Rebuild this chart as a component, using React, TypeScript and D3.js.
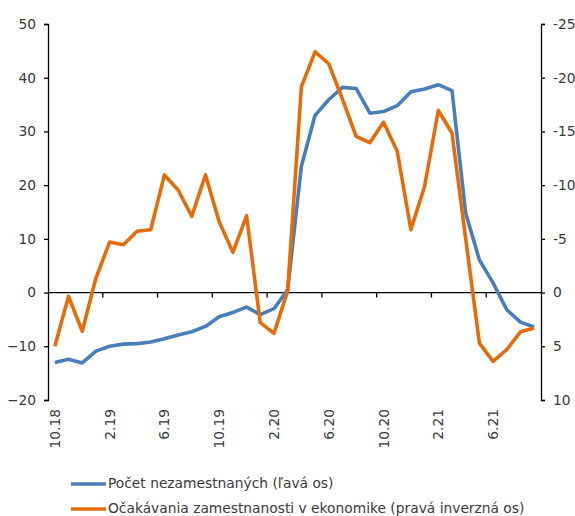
import React, { useEffect, useRef } from "react";
import * as d3 from "d3";

// months 10.18 .. 9.21
const months = [
  "10.18", "11.18", "12.18", "1.19", "2.19", "3.19", "4.19", "5.19", "6.19",
  "7.19", "8.19", "9.19", "10.19", "11.19", "12.19", "1.20", "2.20", "3.20",
  "4.20", "5.20", "6.20", "7.20", "8.20", "9.20", "10.20", "11.20", "12.20",
  "1.21", "2.21", "3.21", "4.21", "5.21", "6.21", "7.21", "8.21", "9.21",
];
const shownLabels = ["10.18", "2.19", "6.19", "10.19", "2.20", "6.20", "10.20", "2.21", "6.21"];

// left axis
const unemployed = [
  -13.0, -12.4, -13.1, -10.9, -10.0, -9.6, -9.5, -9.2, -8.6, -7.9, -7.3, -6.3,
  -4.5, -3.7, -2.7, -4.1, -3.0, 0.5, 23.5, 33.0, 35.9, 38.2, 38.0, 33.4,
  33.7, 34.8, 37.4, 37.9, 38.7, 37.6, 14.8, 6.1, 1.8, -3.2, -5.5, -6.4,
];
// right (inverted) axis
const expectations = [
  5.0, 0.35, 3.6, -1.35, -4.7, -4.45, -5.7, -5.85, -10.95, -9.55, -7.1, -10.95,
  -6.6, -3.75, -7.15, 2.8, 3.8, -0.15, -19.15, -22.4, -21.3, -18.0, -14.55, -13.95,
  -15.85, -13.15, -5.85, -9.9, -16.95, -14.85, -5.0, 4.7, 6.4, 5.3, 3.65, 3.3,
];

const leftTicks = [50, 40, 30, 20, 10, 0, -10, -20];
const rightTicks = [-25, -20, -15, -10, -5, 0, 5, 10];

const seriesNames = [
  "Počet nezamestnaných (ľavá os)",
  "Očakávania zamestnanosti v ekonomike (pravá inverzná os)",
];
const colors = ["#4A7EBB", "#E46C0A"];

const App = () => {
  const svgRef = useRef<SVGSVGElement>(null);

  useEffect(() => {
    const svg = d3.select(svgRef.current);
    svg.selectAll("*").remove();

    const left = 48;
    const right = 541;
    const top = 24;
    const bottom = 400;
    const font = "DejaVu Sans, Verdana, sans-serif";
    const fontSize = "13.8px";
    const textColor = "#3a3a3a";

    const x = d3.scaleBand<string>().domain(months).range([left, right]).padding(0);
    const cx = (m: string) => (x(m) as number) + x.bandwidth() / 2;
    const yL = d3.scaleLinear().domain([-20, 50]).range([bottom, top]);
    const yR = d3.scaleLinear().domain([10, -25]).range([bottom, top]);

    // left axis
    svg.append("g")
      .attr("transform", `translate(${left},0)`)
      .call(d3.axisLeft(yL).tickValues(leftTicks).tickSize(4).tickPadding(8))
      .call((g) => g.selectAll("path,line").attr("stroke", "#000").attr("stroke-width", 1.3))
      .call((g) =>
        g.selectAll("text")
          .attr("fill", textColor)
          .style("font-family", font)
          .style("font-size", fontSize)
      );

    // right axis
    svg.append("g")
      .attr("transform", `translate(${right},0)`)
      .call(
        d3.axisRight(yR).tickValues(rightTicks).tickSize(4).tickPadding(8)
          .tickFormat((d) => String(d))
      )
      .call((g) => g.selectAll("path,line").attr("stroke", "#000").attr("stroke-width", 1.3))
      .call((g) =>
        g.selectAll("text")
          .attr("fill", textColor)
          .style("font-family", font)
          .style("font-size", fontSize)
      );

    // zero line with category ticks
    const y0 = yL(0);
    svg.append("line")
      .attr("x1", left).attr("x2", right)
      .attr("y1", y0).attr("y2", y0)
      .attr("stroke", "#000").attr("stroke-width", 1.3);
    svg.append("g")
      .selectAll("line")
      .data(months.filter((_, i) => i > 0 && i % 4 === 0))
      .join("line")
      .attr("x1", (d) => x(d) as number)
      .attr("x2", (d) => x(d) as number)
      .attr("y1", y0)
      .attr("y2", y0 + 5)
      .attr("stroke", "#000")
      .attr("stroke-width", 1.3);

    // category labels
    svg.append("g")
      .selectAll("text")
      .data(shownLabels)
      .join("text")
      .attr("transform", (d) => `translate(${cx(d) + 1},${bottom + 9}) rotate(-90)`)
      .attr("text-anchor", "end")
      .attr("dominant-baseline", "middle")
      .attr("fill", textColor)
      .style("font-family", font)
      .style("font-size", fontSize)
      .text((d) => d);

    // lines
    const lineL = d3.line<number>().x((_, i) => cx(months[i])).y((d) => yL(d));
    const lineR = d3.line<number>().x((_, i) => cx(months[i])).y((d) => yR(d));

    svg.append("path")
      .datum(unemployed)
      .attr("fill", "none")
      .attr("stroke", colors[0])
      .attr("stroke-width", 3.6)
      .attr("stroke-linejoin", "round")
      .attr("d", lineL);

    svg.append("path")
      .datum(expectations)
      .attr("fill", "none")
      .attr("stroke", colors[1])
      .attr("stroke-width", 3.6)
      .attr("stroke-linejoin", "round")
      .attr("d", lineR);

    // legend
    const legend = svg.append("g");
    seriesNames.forEach((name, i) => {
      const ly = 484 + i * 25;
      legend.append("line")
        .attr("x1", 71).attr("x2", 106)
        .attr("y1", ly).attr("y2", ly)
        .attr("stroke", colors[i])
        .attr("stroke-width", 3.6);
      legend.append("text")
        .attr("x", 108)
        .attr("y", ly)
        .attr("dominant-baseline", "middle")
        .attr("fill", textColor)
        .style("font-family", font)
        .style("font-size", fontSize)
        .text(name);
    });
  }, []);

  return (
    <div style={{ position: "absolute", left: 0, top: 0, width: 575, height: 516 }}>
      <svg ref={svgRef} width={575} height={516}></svg>
    </div>
  );
};

export default App;
